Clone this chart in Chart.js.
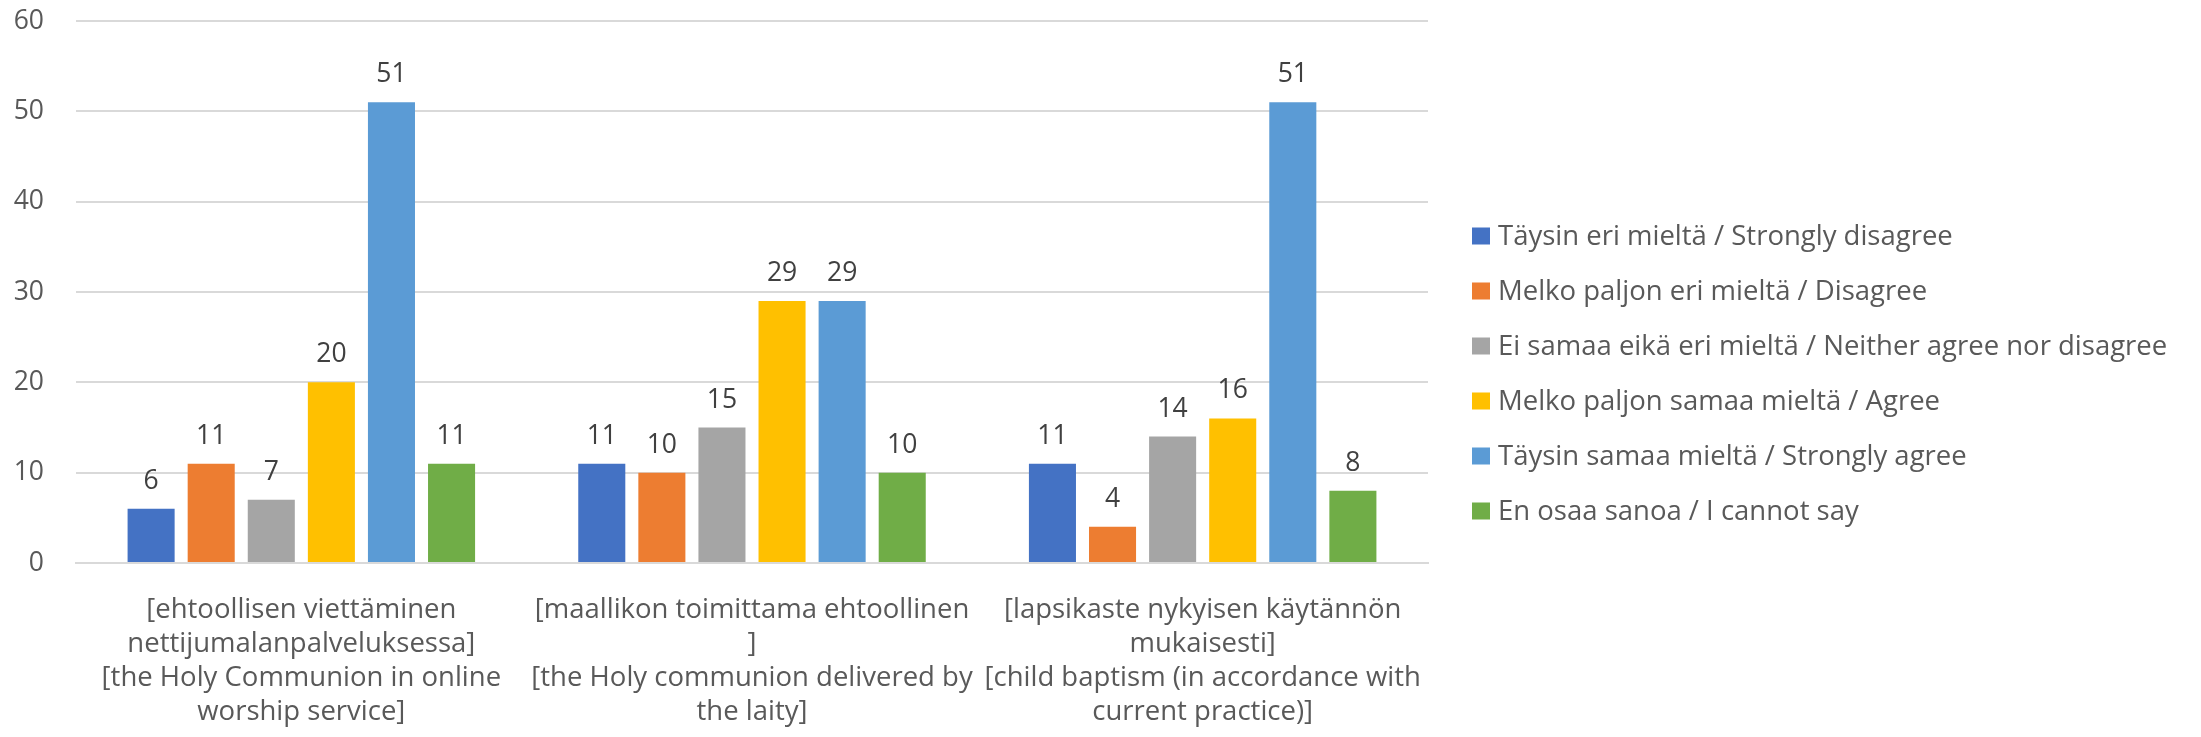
<!DOCTYPE html>
<html>
<head>
<meta charset="utf-8">
<script src="https://cdn.jsdelivr.net/npm/chart.js@4"></script>
<style>
  body { margin: 0; background: #fff; }
  #wrap { width: 2201px; height: 737px; }
</style>
</head>
<body>
<div id="wrap"><canvas id="BarChart"></canvas></div>
<script>
var categories = [
    ["[ehtoollisen viettäminen", "nettijumalanpalveluksessa]", "[the Holy Communion in online", "worship service]"],
    ["[maallikon toimittama ehtoollinen", "]", "[the Holy communion delivered by", "the laity]"],
    ["[lapsikaste nykyisen käytännön", "mukaisesti]", "[child baptism (in accordance with", "current practice)]"]
];
var seriesNames = [
    "Täysin eri mieltä / Strongly disagree",
    "Melko paljon eri mieltä / Disagree",
    "Ei samaa eikä eri mieltä / Neither agree nor disagree",
    "Melko paljon samaa mieltä / Agree",
    "Täysin samaa mieltä / Strongly agree",
    "En osaa sanoa / I cannot say"
];
var stronglyDisagree = [6, 11, 11];
var disagree = [11, 10, 4];
var neither = [7, 15, 14];
var agree = [20, 29, 16];
var stronglyAgree = [51, 29, 51];
var cannotSay = [11, 10, 8];
var yTicks = [0, 10, 20, 30, 40, 50, 60];

var barColors = ["#4472C4", "#ED7D31", "#A5A5A5", "#FFC000", "#5B9BD5", "#70AD47"];
var seriesValues = [stronglyDisagree, disagree, neither, agree, stronglyAgree, cannotSay];

var FONT = "Open Sans";
var FSIZE = 26.5;
var TSIZE = 27.5;
Chart.defaults.font.family = FONT;

// numbers above the bars
var valueLabels = {
    id: "valueLabels",
    afterDatasetsDraw: function (chart) {
        var ctx = chart.ctx;
        ctx.save();
        ctx.font = FSIZE + "px '" + FONT + "'";
        ctx.fillStyle = "#404040";
        ctx.textAlign = "center";
        ctx.textBaseline = "alphabetic";
        chart.data.datasets.forEach(function (ds, i) {
            chart.getDatasetMeta(i).data.forEach(function (bar, j) {
                ctx.fillText(ds.data[j], bar.x, bar.y - 20);
            });
        });
        ctx.restore();
    }
};

// legend on the right (built-in one gets squeezed to half width)
var sideLegend = {
    id: "sideLegend",
    afterDraw: function (chart) {
        var ctx = chart.ctx;
        var x = chart.chartArea.right + 44;
        var rowH = 55;
        var n = chart.data.datasets.length;
        var y0 = chart.height / 2 + 5 - rowH * (n - 1) / 2;
        ctx.save();
        ctx.font = TSIZE + "px '" + FONT + "'";
        ctx.textBaseline = "middle";
        ctx.textAlign = "left";
        chart.data.datasets.forEach(function (ds, i) {
            var cy = y0 + i * rowH;
            ctx.fillStyle = ds.backgroundColor;
            ctx.fillRect(x, cy - 8.5, 18, 17);
            ctx.fillStyle = "#595959";
            ctx.fillText(ds.label, x + 26, cy + 1);
        });
        ctx.restore();
    }
};

function noPad(scale) {
    scale.paddingTop = 0;
    scale.paddingBottom = 0;
    scale.paddingLeft = 0;
    scale.paddingRight = 0;
}

new Chart("BarChart", {
    type: "bar",
    data: {
        labels: categories,
        datasets: seriesNames.map(function (name, i) {
            return {
                label: name,
                data: seriesValues[i],
                backgroundColor: barColors[i],
                barPercentage: 0.783,
                categoryPercentage: 0.8
            };
        })
    },
    options: {
        responsive: true,
        maintainAspectRatio: false,
        animation: false,
        layout: { padding: { left: 14, top: 21, right: 773, bottom: 0 } },
        scales: {
            x: {
                grid: { display: false, drawTicks: false },
                border: { display: true, color: "#d9d9d9", width: 2 },
                ticks: {
                    color: "#595959",
                    font: { size: TSIZE, lineHeight: 1.24 },
                    padding: 30,
                    autoSkip: false,
                    maxRotation: 0
                },
                afterFit: function (scale) {
                    scale.height = 174;
                    noPad(scale);
                }
            },
            y: {
                min: 0,
                max: 60,
                afterBuildTicks: function (axis) {
                    axis.ticks = yTicks.map(function (v) { return { value: v }; });
                },
                grid: { color: "#d9d9d9", lineWidth: 2, drawTicks: false },
                border: { display: false },
                ticks: {
                    color: "#595959",
                    font: { size: FSIZE },
                    padding: 32
                },
                afterFit: function (scale) {
                    scale.width = 62;
                    noPad(scale);
                }
            }
        },
        plugins: {
            legend: { display: false },
            tooltip: { enabled: false }
        }
    },
    plugins: [valueLabels, sideLegend]
});
</script>
</body>
</html>
